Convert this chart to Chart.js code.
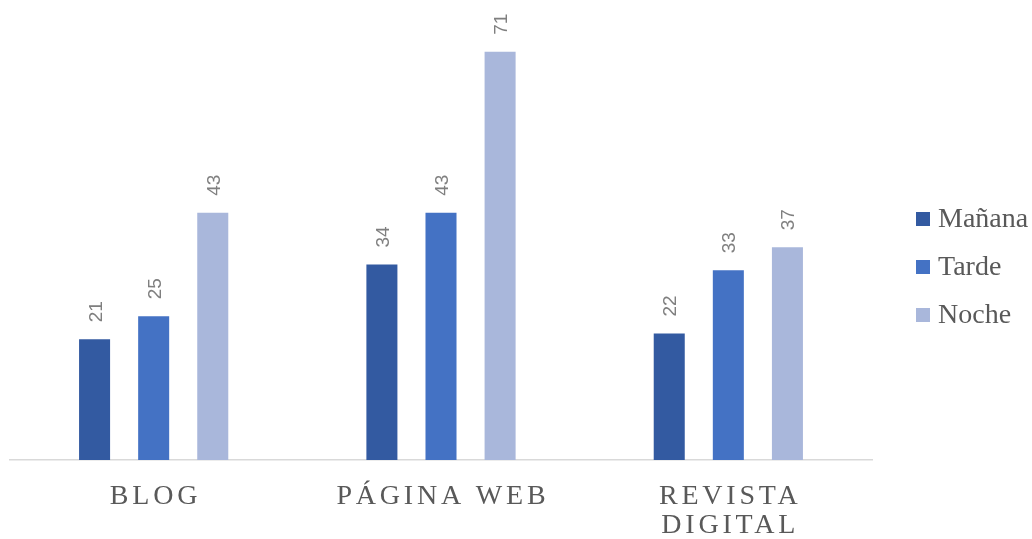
<!DOCTYPE html>
<html>
<head>
<meta charset="utf-8">
<script src="https://cdn.jsdelivr.net/npm/chart.js@4/dist/chart.umd.min.js"></script>
<style>
  html, body { margin: 0; padding: 0; background: #fff; }
  #wrap { width: 1032px; height: 539px; }
</style>
</head>
<body>
<div id="wrap"><canvas id="chart" width="1032" height="539"></canvas></div>
<script>
// categories (multi-line labels as arrays)
const categories = ["BLOG", "PÁGINA WEB", ["REVISTA", "DIGITAL"]];
const seriesNames = ["Mañana", "Tarde", "Noche"];
const manana = [21, 34, 22];
const tarde = [25, 43, 33];
const noche = [43, 71, 37];
const seriesColors = ["#335aa1", "#4472c4", "#a9b7db"];

const labelGray = "#595959";

// rotated value labels above each bar
const valueLabels = {
  id: "valueLabels",
  afterDatasetsDraw(chart) {
    const c = chart.ctx;
    c.save();
    c.fillStyle = "#7f7f7f";
    c.font = "19px 'Liberation Sans', Arial, sans-serif";
    c.textAlign = "left";
    c.textBaseline = "alphabetic";
    chart.data.datasets.forEach((ds, di) => {
      const meta = chart.getDatasetMeta(di);
      meta.data.forEach((bar, i) => {
        c.save();
        c.translate(bar.x + 7, bar.y - 17);
        c.rotate(-Math.PI / 2);
        c.fillText(String(ds.data[i]), 0, 0);
        c.restore();
      });
    });
    c.restore();
  }
};

// spaced-out category names under the axis
const categoryLabels = {
  id: "categoryLabels",
  afterDraw(chart) {
    const c = chart.ctx;
    const x = chart.scales.x;
    const spacing = 3.8;
    c.save();
    c.fillStyle = labelGray;
    c.font = "28px 'Liberation Serif', 'Times New Roman', serif";
    c.letterSpacing = spacing + "px";
    c.textAlign = "center";
    c.textBaseline = "alphabetic";
    chart.data.labels.forEach((lab, i) => {
      const px = x.getPixelForValue(i) + spacing / 2;
      const lines = Array.isArray(lab) ? lab : [lab];
      lines.forEach((line, j) => {
        c.fillText(line, px, 504 + j * 29);
      });
    });
    c.restore();
  }
};

// legend on the right side
const sideLegend = {
  id: "sideLegend",
  afterDraw(chart) {
    const c = chart.ctx;
    c.save();
    c.font = "28px 'Liberation Serif', 'Times New Roman', serif";
    c.textBaseline = "alphabetic";
    c.textAlign = "left";
    chart.data.datasets.forEach((ds, i) => {
      const cy = 219 + i * 48;
      c.fillStyle = ds.backgroundColor;
      c.fillRect(916, cy - 7, 14, 14);
      c.fillStyle = labelGray;
      c.fillText(ds.label, 938, cy + 8);
    });
    c.restore();
  }
};

new Chart(document.getElementById("chart"), {
  type: "bar",
  data: {
    labels: categories,
    datasets: [
      { label: seriesNames[0], data: manana, backgroundColor: seriesColors[0] },
      { label: seriesNames[1], data: tarde, backgroundColor: seriesColors[1] },
      { label: seriesNames[2], data: noche, backgroundColor: seriesColors[2] }
    ]
  },
  options: {
    responsive: false,
    animation: false,
    layout: { padding: { left: 10, right: 160, top: 0, bottom: 71 } },
    datasets: {
      bar: { categoryPercentage: 0.617, barPercentage: 0.525 }
    },
    scales: {
      x: {
        grid: { display: false },
        ticks: { display: false },
        border: { display: true, color: "#d9d9d9", width: 1.5 }
      },
      y: {
        display: false,
        min: 0,
        max: 80
      }
    },
    plugins: {
      legend: { display: false },
      tooltip: { enabled: false }
    }
  },
  plugins: [valueLabels, categoryLabels, sideLegend]
});
</script>
</body>
</html>
